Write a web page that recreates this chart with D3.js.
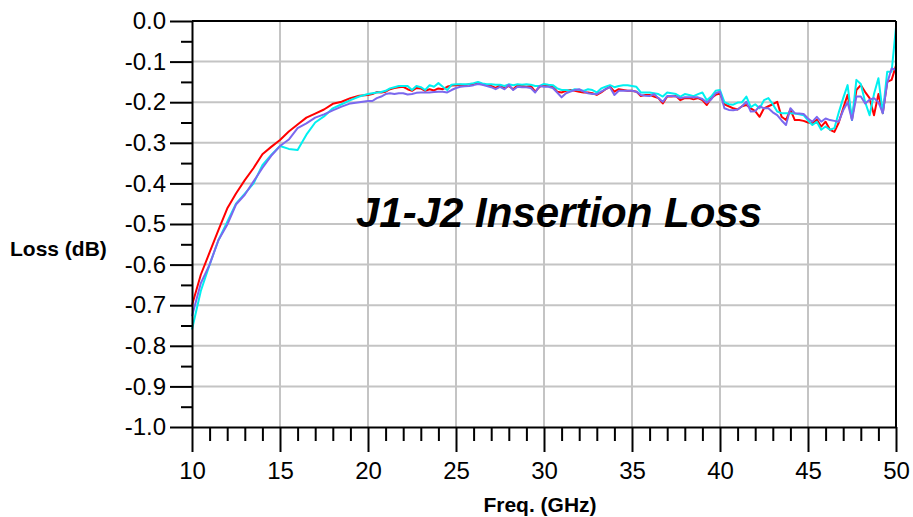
<!DOCTYPE html>
<meta charset="utf-8">
<title>J1-J2 Insertion Loss</title>
<style>
body { margin: 0; background: #fff; }
text { font-family: "Liberation Sans", Arial, sans-serif; }
</style>
<body>
<div id="chart"></div>
<script src="https://d3js.org/d3.v7.min.js"></script>
<script>

// frequency points (GHz)
var freq = [10, 10.5, 11, 11.5, 12, 12.5, 13, 13.5, 14, 14.5, 15, 15.5, 16, 16.5, 17, 17.5, 18, 18.5, 19, 19.5, 20,
  20.25, 20.5, 20.75, 21, 21.25, 21.5, 21.75, 22, 22.25, 22.5, 22.75, 23, 23.25, 23.5, 23.75, 24,
  24.25, 24.5, 24.75, 25, 25.25, 25.5, 25.75, 26, 26.25, 26.5, 26.75, 27, 27.25, 27.5, 27.75, 28,
  28.25, 28.5, 28.75, 29, 29.25, 29.5, 29.75, 30, 30.25, 30.5, 30.75, 31, 31.25, 31.5, 31.75, 32,
  32.25, 32.5, 32.75, 33, 33.25, 33.5, 33.75, 34, 34.25, 34.5, 34.75, 35, 35.25, 35.5, 35.75, 36,
  36.25, 36.5, 36.75, 37, 37.25, 37.5, 37.75, 38, 38.25, 38.5, 38.75, 39, 39.25, 39.5, 39.75, 40,
  40.25, 40.5, 40.75, 41, 41.25, 41.5, 41.75, 42, 42.25, 42.5, 42.75, 43, 43.25, 43.5, 43.75, 44,
  44.25, 44.5, 44.75, 45, 45.25, 45.5, 45.75, 46, 46.25, 46.5, 46.75, 47, 47.25, 47.5, 47.75, 48,
  48.25, 48.5, 48.75, 49, 49.25, 49.5, 49.75, 50];

var redLoss = [-0.70, -0.625, -0.57, -0.515, -0.462, -0.425, -0.392, -0.362, -0.328, -0.31, -0.293, -0.272, -0.255, -0.238, -0.228, -0.218, -0.204, -0.199, -0.19, -0.184, -0.182,
  -0.180, -0.175, -0.176, -0.174, -0.168, -0.165, -0.163, -0.162, -0.168, -0.172, -0.165, -0.166, -0.172, -0.168, -0.171, -0.166,
  -0.168, -0.162, -0.159, -0.158, -0.157, -0.158, -0.156, -0.155, -0.152, -0.156, -0.158, -0.160, -0.165, -0.158, -0.166, -0.160,
  -0.168, -0.158, -0.160, -0.162, -0.160, -0.174, -0.162, -0.158, -0.160, -0.162, -0.174, -0.176, -0.172, -0.170, -0.172, -0.174,
  -0.176, -0.176, -0.178, -0.182, -0.176, -0.168, -0.162, -0.174, -0.168, -0.170, -0.172, -0.172, -0.174, -0.185, -0.182, -0.182,
  -0.186, -0.190, -0.203, -0.186, -0.186, -0.185, -0.195, -0.190, -0.190, -0.193, -0.190, -0.195, -0.207, -0.190, -0.182, -0.178,
  -0.205, -0.210, -0.215, -0.218, -0.210, -0.207, -0.215, -0.222, -0.236, -0.215, -0.210, -0.205, -0.199, -0.236, -0.244, -0.218,
  -0.244, -0.244, -0.246, -0.250, -0.252, -0.243, -0.260, -0.248, -0.268, -0.273, -0.250, -0.215, -0.182, -0.242, -0.170, -0.158,
  -0.175, -0.190, -0.232, -0.180, -0.227, -0.150, -0.145, -0.110];

var cyanLoss = [-0.76, -0.665, -0.60, -0.54, -0.495, -0.45, -0.425, -0.40, -0.355, -0.33, -0.308, -0.315, -0.318, -0.28, -0.25, -0.235, -0.215, -0.205, -0.195, -0.186, -0.18,
  -0.178, -0.176, -0.175, -0.172, -0.166, -0.163, -0.160, -0.160, -0.160, -0.170, -0.160, -0.163, -0.170, -0.158, -0.162, -0.153,
  -0.162, -0.170, -0.157, -0.156, -0.156, -0.156, -0.155, -0.153, -0.150, -0.154, -0.156, -0.156, -0.157, -0.157, -0.160, -0.156,
  -0.158, -0.156, -0.157, -0.156, -0.157, -0.160, -0.160, -0.155, -0.157, -0.158, -0.166, -0.170, -0.170, -0.172, -0.168, -0.170,
  -0.172, -0.168, -0.170, -0.176, -0.166, -0.162, -0.158, -0.163, -0.160, -0.158, -0.158, -0.160, -0.162, -0.176, -0.176, -0.176,
  -0.178, -0.180, -0.186, -0.176, -0.178, -0.180, -0.186, -0.180, -0.182, -0.185, -0.180, -0.176, -0.195, -0.186, -0.172, -0.170,
  -0.200, -0.205, -0.206, -0.201, -0.200, -0.186, -0.212, -0.205, -0.215, -0.195, -0.190, -0.205, -0.223, -0.227, -0.227, -0.227,
  -0.228, -0.230, -0.232, -0.245, -0.256, -0.248, -0.268, -0.260, -0.268, -0.264, -0.225, -0.190, -0.158, -0.244, -0.145, -0.155,
  -0.200, -0.232, -0.180, -0.141, -0.227, -0.125, -0.125, -0.015];

var purpleLoss = [-0.727, -0.646, -0.60, -0.54, -0.502, -0.452, -0.428, -0.395, -0.362, -0.332, -0.308, -0.292, -0.264, -0.252, -0.238, -0.23, -0.22, -0.211, -0.203, -0.20, -0.197,
  -0.197, -0.190, -0.186, -0.180, -0.178, -0.180, -0.178, -0.178, -0.181, -0.180, -0.177, -0.176, -0.176, -0.176, -0.175, -0.174,
  -0.174, -0.176, -0.170, -0.165, -0.162, -0.161, -0.160, -0.158, -0.155, -0.157, -0.160, -0.163, -0.168, -0.162, -0.168, -0.157,
  -0.170, -0.162, -0.163, -0.163, -0.165, -0.176, -0.160, -0.162, -0.162, -0.165, -0.176, -0.188, -0.178, -0.174, -0.170, -0.168,
  -0.174, -0.178, -0.180, -0.180, -0.174, -0.168, -0.163, -0.182, -0.172, -0.172, -0.172, -0.172, -0.174, -0.182, -0.184, -0.185,
  -0.180, -0.190, -0.199, -0.185, -0.185, -0.186, -0.190, -0.188, -0.188, -0.188, -0.188, -0.192, -0.201, -0.193, -0.178, -0.174,
  -0.215, -0.219, -0.220, -0.218, -0.210, -0.199, -0.223, -0.222, -0.210, -0.215, -0.215, -0.225, -0.232, -0.245, -0.256, -0.215,
  -0.227, -0.228, -0.229, -0.240, -0.248, -0.236, -0.248, -0.240, -0.244, -0.246, -0.248, -0.220, -0.200, -0.244, -0.186, -0.186,
  -0.203, -0.194, -0.190, -0.200, -0.227, -0.153, -0.117, -0.120];

var series = [
  { name: "red", color: "#ff0000", values: redLoss },
  { name: "cyan", color: "#00f0f0", values: cyanLoss },
  { name: "purple", color: "#7b68ee", values: purpleLoss }
];

var xMajor = [10, 15, 20, 25, 30, 35, 40, 45, 50];
var yMajor = [0, -0.1, -0.2, -0.3, -0.4, -0.5, -0.6, -0.7, -0.8, -0.9, -1.0];

var W = 913, H = 517;
var plotL = 192, plotR = 896, plotT = 21, plotB = 427;

var svg = d3.select("#chart").append("svg")
  .attr("width", W)
  .attr("height", H);

var x = d3.scaleLinear().domain([10, 50]).range([plotL, plotR]);
var y = d3.scaleLinear().domain([-1, 0]).range([plotB, plotT]);

// grid
svg.append("g").selectAll("line")
  .data(xMajor.slice(1, -1))
  .enter().append("line")
    .attr("x1", function(d) { return x(d); })
    .attr("x2", function(d) { return x(d); })
    .attr("y1", plotT).attr("y2", plotB)
    .attr("stroke", "#c4c4c4").attr("stroke-width", 2);

svg.append("g").selectAll("line")
  .data(yMajor.slice(1, -1))
  .enter().append("line")
    .attr("y1", function(d) { return y(d); })
    .attr("y2", function(d) { return y(d); })
    .attr("x1", plotL).attr("x2", plotR)
    .attr("stroke", "#c4c4c4").attr("stroke-width", 2);

// curves
var line = d3.line()
  .x(function(d, i) { return x(freq[i]); })
  .y(function(d) { return y(d); });

svg.append("g").selectAll("path")
  .data(series)
  .enter().append("path")
    .attr("d", function(s) { return line(s.values); })
    .attr("fill", "none")
    .attr("stroke", function(s) { return s.color; })
    .attr("stroke-width", 2)
    .attr("stroke-linejoin", "round");

// frame top / right
svg.append("line").attr("x1", plotL).attr("x2", plotR).attr("y1", plotT).attr("y2", plotT)
  .attr("stroke", "#000").attr("stroke-width", 2);
svg.append("line").attr("x1", plotR).attr("x2", plotR).attr("y1", plotT).attr("y2", plotB)
  .attr("stroke", "#000").attr("stroke-width", 2);

// y axis: minor then major
var yMinor = yMajor.slice(0, -1).map(function(d) { return d - 0.05; });
svg.append("g")
  .attr("transform", "translate(" + plotL + ",0)")
  .call(d3.axisLeft(y).tickValues(yMinor).tickSize(11).tickSizeOuter(0).tickFormat(""))
  .call(function(g) { g.select(".domain").remove(); });

svg.append("g")
  .attr("transform", "translate(" + plotL + ",0)")
  .call(d3.axisLeft(y).tickValues(yMajor).tickSize(22).tickSizeOuter(0).tickPadding(4)
    .tickFormat(function(d) { return d.toFixed(1); }));

// x axis: minor then major
var xMinor = d3.range(11, 50).filter(function(d) { return d % 5 !== 0; });
svg.append("g")
  .attr("transform", "translate(0," + plotB + ")")
  .call(d3.axisBottom(x).tickValues(xMinor).tickSize(14).tickSizeOuter(0).tickFormat(""))
  .call(function(g) { g.select(".domain").remove(); });

svg.append("g")
  .attr("transform", "translate(0," + plotB + ")")
  .call(d3.axisBottom(x).tickValues(xMajor).tickSize(25).tickSizeOuter(0).tickPadding(10)
    .tickFormat(d3.format("d")));

svg.selectAll(".tick line, .domain").attr("stroke", "#000").attr("stroke-width", 2);
svg.selectAll(".tick text")
  .attr("fill", "#000")
  .style("font-size", "24px")
  .style("font-family", "'Liberation Sans', Arial, sans-serif");

// titles
svg.append("text")
  .attr("x", 559).attr("y", 227)
  .attr("text-anchor", "middle")
  .style("font-size", "42px")
  .style("font-weight", "bold")
  .style("font-style", "italic")
  .text("J1-J2 Insertion Loss");

svg.append("text")
  .attr("x", 10).attr("y", 256)
  .style("font-size", "21px")
  .style("font-weight", "bold")
  .text("Loss (dB)");

svg.append("text")
  .attr("x", 540).attr("y", 512)
  .attr("text-anchor", "middle")
  .style("font-size", "21px")
  .style("font-weight", "bold")
  .text("Freq. (GHz)");

</script>
</body>
